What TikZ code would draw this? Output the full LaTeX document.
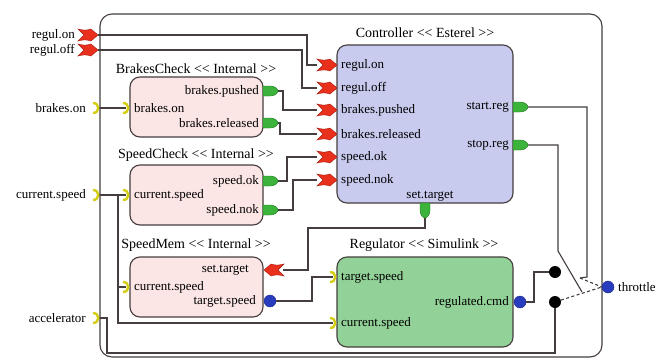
\documentclass[tikz,border=0pt]{standalone}
\usepackage{fontspec}
\setmainfont{Liberation Serif}
\definecolor{wirec}{RGB}{70,62,62}
\definecolor{ctrlfill}{RGB}{200,202,238}
\definecolor{intfill}{RGB}{251,229,229}
\definecolor{regfill}{RGB}{146,210,152}
\definecolor{redp}{RGB}{232,48,28}
\definecolor{redd}{RGB}{170,30,20}
\definecolor{greenp}{RGB}{60,180,60}
\definecolor{greend}{RGB}{30,120,30}
\definecolor{yellowp}{RGB}{212,206,20}
\definecolor{bluep}{RGB}{40,60,190}
\tikzset{
  frame/.style={draw=wirec, line width=1.1pt, rounded corners=12pt},
  block/.style={draw=wirec, line width=1.1pt, rounded corners=10pt, inner sep=0pt},
  wire/.style={draw=wirec, line width=1.1pt},
  dashwire/.style={draw=wirec, line width=1.1pt, dash pattern=on 3pt off 2.5pt},
  lab/.style={inner sep=0pt, font=\fontsize{13}{15}\selectfont},
  ttl/.style={inner sep=0pt, font=\fontsize{14}{16}\selectfont},
  bport/.style={circle, fill=bluep, draw=bluep!70!black, line width=0.4pt, minimum size=12pt, inner sep=0pt},
  swdot/.style={circle, fill=black, minimum size=12pt, inner sep=0pt},
  redport/.pic={\filldraw[fill=redp, draw=redd, line width=0.4pt]
     (-20,-6) .. controls (-13,-4.5) .. (-7,-6) -- (0,0) -- (-7,6) .. controls (-13,4.5) .. (-20,6) -- (-14,0) -- cycle;},
  greenport/.pic={\filldraw[fill=greenp, draw=greend, line width=0.4pt]
     (0,-5) -- (7,-5) .. controls (12,-5) and (15,-2) .. (15,0) .. controls (15,2) and (12,5) .. (7,5) -- (0,5) -- cycle;},
  yellowport/.pic={\draw[yellowp, line width=2.4pt] (-3,-5) .. controls (4,-5) and (4,5) .. (-3,5);}
}
\begin{document}
\begin{tikzpicture}[x=1pt,y=-1pt]
\useasboundingbox (0,0) rectangle (661,359);
\fill[white] (0,0) rectangle (661,359);

% outer frame
\draw[frame] (100,14) rectangle (602,357);

% blocks
\node[block, fill=ctrlfill, minimum width=176pt, minimum height=158pt] (ctrl) at (425,124) {};
\node[block, fill=intfill, minimum width=133pt, minimum height=60pt] (bc) at (196.5,107) {};
\node[block, fill=intfill, minimum width=133pt, minimum height=60pt] (sc) at (196.5,195) {};
\node[block, fill=intfill, minimum width=133pt, minimum height=60pt] (sm) at (196.5,287) {};
\node[block, fill=regfill, minimum width=176pt, minimum height=90pt] (rg) at (425,302) {};

% titles
\node[ttl] (ctrlT) at (425,33) {Controller <{}< Esterel >{}>};
\node[ttl] (bcT) at (196,69) {BrakesCheck <{}< Internal >{}>};
\node[ttl] (scT) at (196,155) {SpeedCheck <{}< Internal >{}>};
\node[ttl] (smT) at (196,245) {SpeedMem <{}< Internal >{}>};
\node[ttl] (rgT) at (424,245) {Regulator <{}< Simulink >{}>};

% port coordinates
\coordinate (eOn) at (98,35);
\coordinate (eOff) at (98,50);
\coordinate (eBrk) at (98,108);
\coordinate (eCur) at (98,195);
\coordinate (eAcc) at (98,318);
\coordinate (cOn) at (317,65);
\coordinate (cOff) at (317,88);
\coordinate (cBP) at (317,110);
\coordinate (cBR) at (317,134);
\coordinate (cSOk) at (317,157);
\coordinate (cSNok) at (317,180);
\coordinate (cStart) at (526,107);
\coordinate (cStop) at (526,145);
\coordinate (cSet) at (425,216);
\coordinate (bcIn) at (126,108);
\coordinate (bcP) at (276,91);
\coordinate (bcR) at (276,123);
\coordinate (scIn) at (126,195);
\coordinate (scOk) at (276,181);
\coordinate (scNok) at (276,210);
\coordinate (smSet) at (283,270);
\coordinate (smIn) at (126,287);
\coordinate (rgTS) at (333,277);
\coordinate (rgCur) at (333,323);
\coordinate (br) at (118,195);
\coordinate (tip1) at (580,278);
\node[bport] (smTS) at (270,301) {};
\node[bport] (rgCmd) at (520,302) {};
\node[bport] (thr) at (608,287) {};
\node[swdot] (sw1) at (555,272) {};
\node[swdot] (sw2) at (555,302) {};

% wires
\draw[wire] (eOn) -- (307,35) |- (cOn);
\draw[wire] (eOff) -- (302,50) |- (cOff);
\draw[wire] (eBrk) -- (bcIn);
\draw[wire] (bcP) -- (283,91) |- (cBP);
\draw[wire] (bcR) -- (280,123) |- (cBR);
\draw[wire] (scOk) -- (287,181) |- (cSOk);
\draw[wire] (scNok) -- (293,210) |- (cSNok);
\draw[wire] (eCur) -- (scIn);
\draw[wire] (br) |- (smIn);
\draw[wire] (118,287) |- (rgCur);
\draw[wire] (cSet) -- (425,228) -- (308,228) |- (smSet);
\draw[wire] (smTS) -- (312,301) |- (rgTS);
\draw[wire] (rgCmd) -- (534,302) |- (sw1);
\draw[wire] (eAcc) -- (107,318) -- (107,353) -| (sw2);
\draw[wire] (cStart) -- (587,107) -- (587,277) -- (tip1);
\draw[wire] (cStop) -- (558,145) -- (558,251) -- (582,292);
\draw[dashwire] (tip1) -- (thr.west);
\draw[dashwire] (sw2) -- (thr.west);

% port shapes
\pic at (98,35) {redport};
\pic at (98,50) {redport};
\foreach \y in {65,88,110,134,157,180} \pic at (337,\y) {redport};
\pic[rotate=180] at (264,270) {redport};
\pic at (513,107) {greenport};
\pic at (513,145) {greenport};
\pic[rotate=-90] at (425,203) {greenport};
\pic at (263,91) {greenport};
\pic at (263,123) {greenport};
\pic at (263,181) {greenport};
\pic at (263,210) {greenport};
\pic at (96,108) {yellowport};
\pic at (96,195) {yellowport};
\pic at (96,318) {yellowport};
\pic at (126,108) {yellowport};
\pic at (126,195) {yellowport};
\pic at (126,287) {yellowport};
\pic at (333,277) {yellowport};
\pic at (333,323) {yellowport};

% external labels
\node[lab, anchor=east] (lOn) at (75,35) {regul.on};
\node[lab, anchor=east] (lOff) at (75,50) {regul.off};
\node[lab, anchor=east] (lBrk) at (86,108) {brakes.on};
\node[lab, anchor=east] (lCur) at (86,195) {current.speed};
\node[lab, anchor=east] (lAcc) at (86,318) {accelerator};
\node[lab, anchor=west] (lThr) at (618,287) {throttle};

% controller labels
\node[lab, anchor=west] (l1) at (341,65) {regul.on};
\node[lab, anchor=west] (l2) at (341,88) {regul.off};
\node[lab, anchor=west] (l3) at (341,110) {brakes.pushed};
\node[lab, anchor=west] (l4) at (341,134) {brakes.released};
\node[lab, anchor=west] (l5) at (341,157) {speed.ok};
\node[lab, anchor=west] (l6) at (341,180) {speed.nok};
\node[lab, anchor=east] (l7) at (509,107) {start.reg};
\node[lab, anchor=east] (l8) at (509,145) {stop.reg};
\node[lab] (l9) at (430,196) {set.target};

% internal labels
\node[lab, anchor=west] (b1) at (134,108) {brakes.on};
\node[lab, anchor=east] (b2) at (259,91) {brakes.pushed};
\node[lab, anchor=east] (b3) at (259,123) {brakes.released};
\node[lab, anchor=west] (s1) at (134,195) {current.speed};
\node[lab, anchor=east] (s2) at (259,181) {speed.ok};
\node[lab, anchor=east] (s3) at (259,210) {speed.nok};
\node[lab, anchor=east] (m1) at (249,270) {set.target};
\node[lab, anchor=west] (m2) at (134,287) {current.speed};
\node[lab, anchor=east] (m3) at (256,301) {target.speed};
\node[lab, anchor=west] (r1) at (341,277) {target.speed};
\node[lab, anchor=west] (r2) at (341,323) {current.speed};
\node[lab, anchor=east] (r3) at (509,302) {regulated.cmd};
\end{tikzpicture}
\end{document}
